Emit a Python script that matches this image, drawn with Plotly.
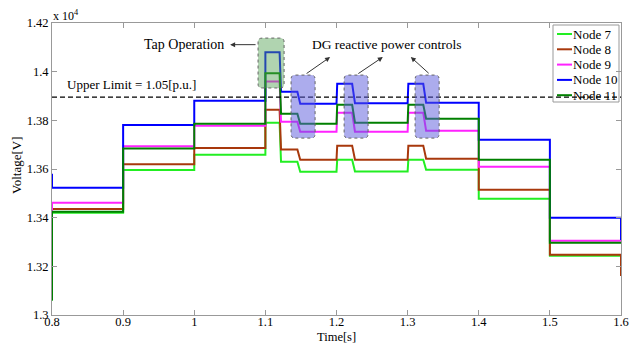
import plotly.graph_objects as go

# ---- data (voltages in V) ----
breaks = [0.8, 0.9, 1.0, 1.1, 1.12, 1.145, 1.2, 1.222, 1.3, 1.322, 1.4, 1.5, 1.6]
ramps = [0, 0, 0, 0.002, 0.004, 0.001, 0.004, 0.001, 0.004, 0, 0]  # interior boundaries

node_names = ["Node 7", "Node 8", "Node 9", "Node 10", "Node 11"]
node7 = [13420, 13596, 13659, 13790, 13630, 13589, 13638, 13590, 13638, 13597, 13478, 13244]
node8 = [13436, 13620, 13686, 13844, 13680, 13638, 13696, 13638, 13696, 13642, 13515, 13248]
node9 = [13461, 13693, 13778, 13960, 13794, 13753, 13831, 13753, 13831, 13757, 13609, 13305]
node10 = [13523, 13781, 13880, 14080, 13917, 13868, 13950, 13870, 13950, 13872, 13720, 13400]
node11 = [13424, 13684, 13786, 13993, 13827, 13786, 13864, 13790, 13864, 13807, 13638, 13297]
start_vals = [13060, 13300, 13400, 13580, 13060]
end_vals = [13244, 13160, 13305, 13308, 13297]
upper_limit = 13895

y_ticks = [13000, 13200, 13400, 13600, 13800, 14000, 14200]
y_ticktext = ["1.3", "1.32", "1.34", "1.36", "1.38", "1.4", "1.42"]
x_ticks = [0.8, 0.9, 1.0, 1.1, 1.2, 1.3, 1.4, 1.5, 1.6]
x_ticktext = ["0.8", "0.9", "1", "1.1", "1.2", "1.3", "1.4", "1.5", "1.6"]

colors = ["#22ee22", "#a8380c", "#ff22ff", "#0000ff", "#008000"]
series = [node7, node8, node9, node10, node11]

FONT = "Liberation Serif, Times New Roman, serif"
W, H = 638, 343
ML, MR, MT, MB = 52, 17, 23, 28
PW, PH = W - ML - MR, H - MT - MB


def px2paper(px, py):
    return (px - ML) / PW, (H - MB - py) / PH


def build(levels, v0, v_end):
    xs, ys = [breaks[0]], [v0]
    for i, lv in enumerate(levels):
        s = breaks[i] + (ramps[i - 1] if i > 0 else 0)
        xs += [s, breaks[i + 1]]
        ys += [lv, lv]
    xs.append(breaks[-1])
    ys.append(v_end)
    return xs, ys


fig = go.Figure()
for name, lv, c, v0, ve in zip(node_names, series, colors, start_vals, end_vals):
    xs, ys = build(lv, v0, ve)
    fig.add_trace(go.Scatter(x=xs, y=ys, mode="lines", name=name,
                             line=dict(color=c, width=2), showlegend=False))

fig.add_shape(type="line", xref="x", yref="y", x0=breaks[0], x1=breaks[-1],
              y0=upper_limit, y1=upper_limit,
              line=dict(color="black", width=1.2, dash="5px,3px"), layer="above")


def rbox(x0, x1, y0, y1, rx=0.006, ry=16):
    return (f"M {x0+rx},{y0} L {x1-rx},{y0} Q {x1},{y0} {x1},{y0+ry} "
            f"L {x1},{y1-ry} Q {x1},{y1} {x1-rx},{y1} L {x0+rx},{y1} "
            f"Q {x0},{y1} {x0},{y1-ry} L {x0},{y0+ry} Q {x0},{y0} {x0+rx},{y0} Z")


fig.add_shape(type="path", path=rbox(1.0897, 1.1263, 13933, 14138),
              fillcolor="rgba(80,160,80,0.45)",
              line=dict(color="rgb(100,100,100)", width=1, dash="dot"), layer="above")
for bx0, bx1 in [(1.1361, 1.1699), (1.2107, 1.2444), (1.3105, 1.3443)]:
    fig.add_shape(type="path", path=rbox(bx0, bx1, 13727, 13986),
                  fillcolor="rgba(90,90,220,0.5)",
                  line=dict(color="rgb(100,100,100)", width=1, dash="dot"), layer="above")

ann = []
ann.append(dict(x=1.0504, y=14111, ax=1.0883, ay=14111, xref="x", yref="y",
                axref="x", ayref="y", text="", showarrow=True, arrowhead=2,
                arrowsize=1, arrowwidth=1, arrowcolor="#333"))
for hx, tx in [(1.1910, 1.1558), (1.2651, 1.2286), (1.3045, 1.3317)]:
    ann.append(dict(x=hx, y=14060, ax=tx, ay=13988, xref="x", yref="y",
                    axref="x", ayref="y", text="", showarrow=True, arrowhead=2,
                    arrowsize=1, arrowwidth=1, arrowcolor="#333"))
ann.append(dict(x=0.986, y=14113, xref="x", yref="y", text="Tap Operation",
                showarrow=False, xanchor="center", yanchor="middle",
                font=dict(family=FONT, size=14, color="black")))
ann.append(dict(x=1.271, y=14113, xref="x", yref="y", text="DG reactive power controls",
                showarrow=False, xanchor="center", yanchor="middle",
                font=dict(family=FONT, size=13.5, color="black")))
ann.append(dict(x=0.818, y=13947, xref="x", yref="y", text="Upper Limit = 1.05[p.u.]",
                showarrow=False, xanchor="left", yanchor="middle",
                font=dict(family=FONT, size=13, color="black")))
ann.append(dict(x=0.0, y=1.0, xref="paper", yref="paper", text="x 10<sup>4</sup>",
                showarrow=False, xanchor="left", yanchor="bottom", xshift=-1, yshift=-2,
                font=dict(family=FONT, size=12, color="black")))
tx, ty = px2paper(336, 337)
ann.append(dict(x=tx, y=ty, xref="paper", yref="paper", text="Time[s]",
                showarrow=False, xanchor="center", yanchor="middle",
                font=dict(family=FONT, size=12.5, color="black")))
tx, ty = px2paper(17, 165)
ann.append(dict(x=tx, y=ty, xref="paper", yref="paper", text="Voltage[V]",
                showarrow=False, textangle=-90, xanchor="center", yanchor="middle",
                font=dict(family=FONT, size=13, color="black")))

lx0, ly0 = px2paper(553, 25)
lx1, ly1 = px2paper(619, 102)
fig.add_shape(type="rect", xref="paper", yref="paper", x0=lx0, x1=lx1, y0=ly1, y1=ly0,
              line=dict(color="#999", width=1), fillcolor="rgba(255,255,255,0)", layer="above")
row_y = [34, 49.3, 64.6, 79.9, 95.2]
for name, c, ry in zip(node_names, colors, row_y):
    a0, b0 = px2paper(557, ry)
    a1, _ = px2paper(572, ry)
    fig.add_shape(type="line", xref="paper", yref="paper", x0=a0, x1=a1, y0=b0, y1=b0,
                  line=dict(color=c, width=2), layer="above")
    ann.append(dict(x=a1, y=b0, xref="paper", yref="paper", text=name, showarrow=False,
                    xanchor="left", yanchor="middle", xshift=-1,
                    font=dict(family=FONT, size=13, color="black")))

fig.update_layout(
    width=W, height=H,
    margin=dict(l=ML, r=MR, t=MT, b=MB),
    paper_bgcolor="white", plot_bgcolor="white",
    font=dict(family=FONT, size=12, color="black"),
    annotations=ann,
    showlegend=False,
)
fig.update_xaxes(range=[0.8, 1.6], tickvals=x_ticks, ticktext=x_ticktext,
                 showgrid=False, zeroline=False, showline=True, linecolor="#999",
                 mirror="ticks", ticks="inside", ticklen=5, tickcolor="#999",
                 automargin=False, tickfont=dict(family=FONT, size=12.5),
                 ticklabelstandoff=-5)
fig.update_yaxes(range=[13000, 14200], tickvals=y_ticks, ticktext=y_ticktext,
                 showgrid=False, zeroline=False, showline=True, linecolor="#999",
                 mirror="ticks", ticks="inside", ticklen=5, tickcolor="#999",
                 automargin=False, tickfont=dict(family=FONT, size=12.5))

fig.write_html("out.html")
